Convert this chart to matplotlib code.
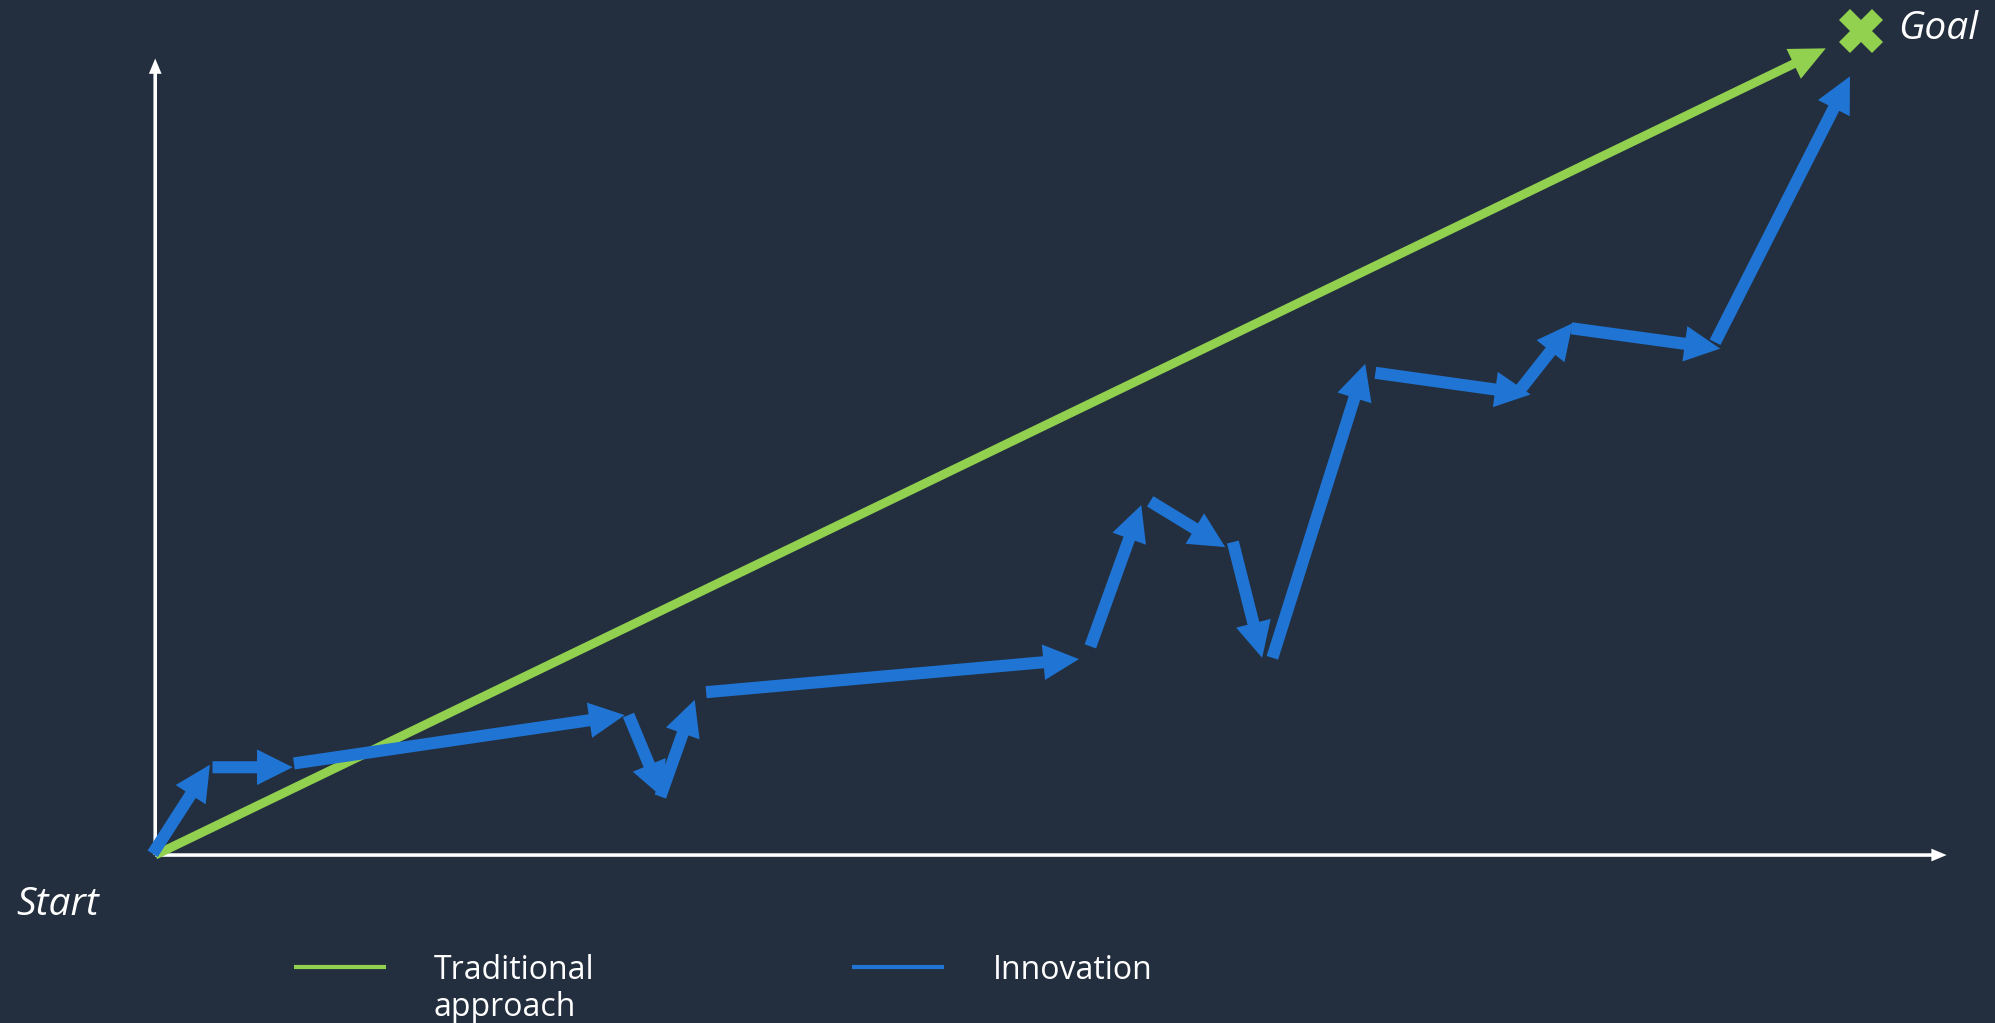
#!/usr/bin/env python3
"""
Traditional approach vs. innovation: a straight line to the goal versus a zig-zag of small steps
"""

import matplotlib
matplotlib.use("Agg")
import matplotlib.pyplot as plt
from matplotlib.patches import FancyArrow

# data (x = effort / time, y = progress, origin at the axes corner)
traditional_start = (0, 0)
traditional_end = (1313, 634)

innovation_tails_x = [-2, 45, 109, 372, 397, 433, 735, 782, 847, 878, 959, 1073, 1113, 1226]
innovation_tails_y = [1, 69, 72, 110, 46, 128, 164, 278, 246, 155, 379, 366, 414, 403]
innovation_heads_x = [43, 108, 369, 399, 424, 726, 775, 841, 870, 951, 1081, 1114, 1230, 1332]
innovation_heads_y = [71, 69, 110, 45, 122, 154, 275, 242, 155, 386, 362, 418, 398, 612]

goal_xy = (1341, 648)
x_axis_end = 1408
y_axis_end = 626

series_labels = ["Traditional\napproach", "Innovation"]

BG = "#232F3E"
GREEN = "#92D050"
BLUE = "#1F74D4"
WHITE = "#FFFFFF"

plt.rcParams["font.family"] = ["Open Sans", "DejaVu Sans"]

fig = plt.figure(figsize=(19.95, 10.23), dpi=100, facecolor=BG)
ax = fig.add_axes([0, 0, 1, 1])
ax.set_facecolor(BG)
ax.set_xlim(-122, 1568 - 122)
ax.set_ylim(-(804 - 672), 672)
ax.axis("off")

# axes with small arrow heads
ax.add_patch(FancyArrow(0, 0, x_axis_end, 0, width=2.8, head_width=10, head_length=12,
                        length_includes_head=True, color=WHITE, lw=0, zorder=2))
ax.add_patch(FancyArrow(0, 0, 0, y_axis_end, width=2.8, head_width=10, head_length=12,
                        length_includes_head=True, color=WHITE, lw=0, zorder=2))

# traditional approach: one straight arrow
ax.add_patch(FancyArrow(traditional_start[0], traditional_start[1],
                        traditional_end[0] - traditional_start[0],
                        traditional_end[1] - traditional_start[1],
                        width=7, head_width=26, head_length=28,
                        length_includes_head=True, color=GREEN, lw=0, zorder=3))

# innovation: many small steps
for x0, y0, x1, y1 in zip(innovation_tails_x, innovation_tails_y,
                          innovation_heads_x, innovation_heads_y):
    ax.add_patch(FancyArrow(x0, y0, x1 - x0, y1 - y0,
                            width=9.5, head_width=28, head_length=28,
                            length_includes_head=True, color=BLUE, lw=0, zorder=4))

# goal marker and labels
ax.plot(goal_xy[0], goal_xy[1], marker="X", markersize=31, color=GREEN,
        markeredgewidth=0, zorder=5)
ax.text(goal_xy[0] + 29, goal_xy[1] + 1, "Goal", color=WHITE, fontsize=28,
        style="italic", ha="left", va="center")
ax.text(-109, -39, "Start", color=WHITE, fontsize=28, style="italic",
        ha="left", va="center")

# manual legend below the chart
legend_colors = [GREEN, BLUE]
legend_x = [109, 548]
for label, color, lx in zip(series_labels, legend_colors, legend_x):
    ax.plot([lx, lx + 72], [-88, -88], color=color, lw=3, solid_capstyle="butt")
    ax.text(lx + 110, -78, label, color=WHITE, fontsize=23, ha="left", va="top",
            linespacing=1.15)

fig.savefig("out.png", dpi=100, facecolor=BG)
